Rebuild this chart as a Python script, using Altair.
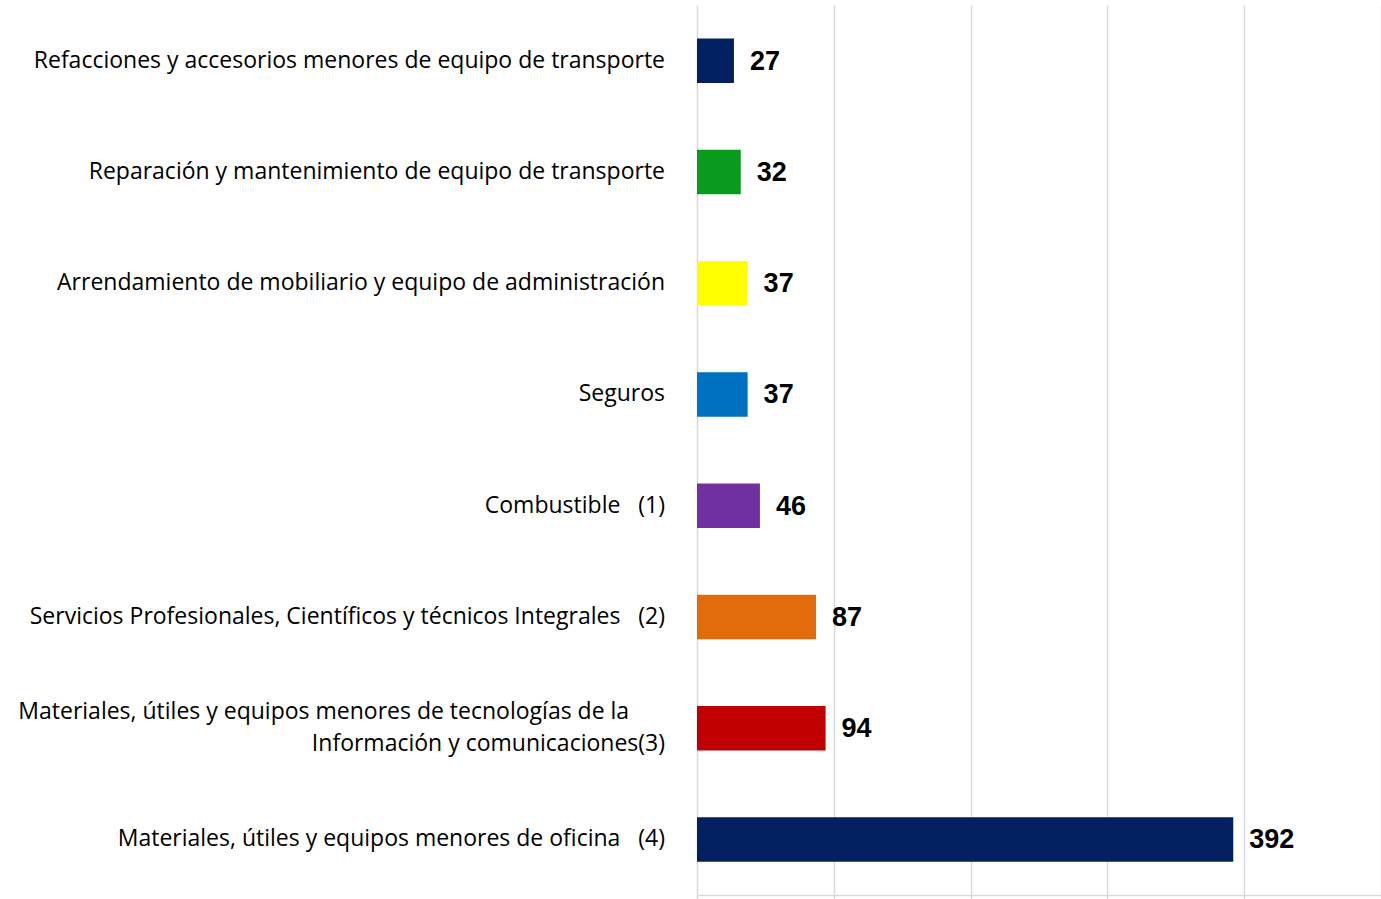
import altair as alt
import pandas as pd

NB = "\u00a0"
categories = [
    "Refacciones y accesorios menores de equipo de transporte",
    "Reparación y mantenimiento de equipo de transporte",
    "Arrendamiento de mobiliario y equipo de administración",
    "Seguros",
    "Combustible" + NB * 3 + "(1)",
    "Servicios Profesionales, Científicos y técnicos Integrales" + NB * 3 + "(2)",
    "Materiales, útiles y equipos menores de tecnologías de la" + NB * 6 + "\u200b|Información y comunicaciones(3)",
    "Materiales, útiles y equipos menores de oficina" + NB * 3 + "(4)",
]
values = [27, 32, 37, 37, 46, 87, 94, 392]
colors = ["#002060", "#0A9A1E", "#FFFF00", "#0070C0", "#7030A0", "#E36C0A", "#C00000", "#002060"]

df = pd.DataFrame({"cat": categories, "val": values, "col": colors})

y_enc = alt.Y(
    "cat:N",
    sort=None,
    scale=alt.Scale(paddingInner=0.6),
    axis=None,
)

x_axis = alt.Axis(
    title=None,
    values=[0, 100, 200, 300, 400, 500],
    labels=False,
    grid=True,
    gridColor="#d9d9d9",
    gridWidth=1.5,
    domainColor="#d9d9d9",
    domainWidth=1.5,
    tickColor="#d9d9d9",
    tickSize=5,
    tickWidth=1.5,
)

x_enc = alt.X("val:Q", scale=alt.Scale(domain=[0, 500], nice=False), axis=x_axis)

bars = alt.Chart(df).mark_bar().encode(
    x=x_enc,
    y=y_enc,
    color=alt.Color("col:N", scale=None, legend=None),
)

values_text = alt.Chart(df).mark_text(
    align="left", baseline="middle", dx=16, dy=1, font="Arial", fontWeight="bold", fontSize=27, color="#000000"
).encode(
    x=alt.X("val:Q", axis=x_axis),
    y=alt.Y("cat:N", sort=None, axis=None),
    text="val:Q",
)

single_text = alt.Chart(df).transform_filter(
    "indexof(datum.cat, '|') < 0"
).mark_text(
    align="right", baseline="middle", font="Open Sans", fontSize=23, color="#000000",
).encode(
    x=alt.value(-32),
    y=alt.Y("cat:N", sort=None, axis=None),
    text="cat:N",
)

multi_text = alt.Chart(df).transform_filter(
    "indexof(datum.cat, '|') >= 0"
).mark_text(
    align="right", baseline="middle", font="Open Sans", fontSize=23, color="#000000",
    lineBreak="|", lineHeight=32, dy=-16,
).encode(
    x=alt.value(-32),
    y=alt.Y("cat:N", sort=None, axis=None),
    text="cat:N",
)

chart = (
    alt.layer(bars, values_text, single_text, multi_text)
    .properties(
        width=684,
        height=890,
        background="#ffffff",
        autosize=alt.AutoSizeParams(type="none"),
        padding={"left": 697, "top": 5, "right": 0, "bottom": 4},
    )
    .configure_view(strokeWidth=0, stroke="transparent")
)

chart.save("out.html", embed_options={"renderer": "svg", "actions": False})
